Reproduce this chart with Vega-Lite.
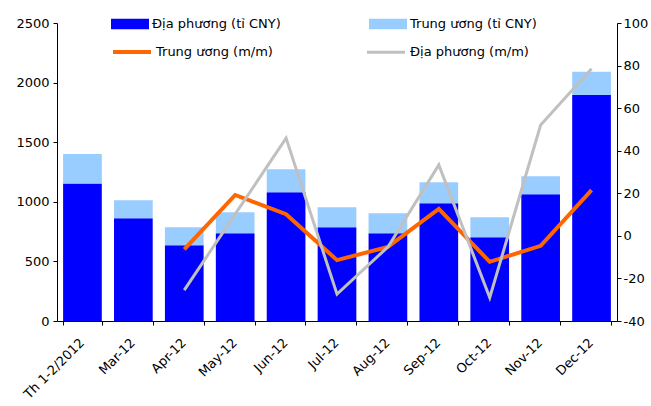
{
  "$schema": "https://vega.github.io/schema/vega-lite/v6.json",
  "width": 560,
  "height": 298,
  "autosize": {"type": "none"},
  "padding": {"left": 57, "top": 23, "right": 34, "bottom": 85},
  "background": "white",
  "config": {
    "view": {"stroke": null},
    "font": "DejaVu Sans",
    "axis": {"labelFont": "DejaVu Sans", "labelFontSize": 13, "labelColor": "#000", "domainColor": "#000", "tickColor": "#000", "grid": false, "tickSize": 4},
    "legend": {"labelFont": "DejaVu Sans", "labelFontSize": 13, "labelColor": "#000"}
  },
  "datasets": {
    "bars": [
      {"month": "Th 1-2/2012", "series": "Địa phương (tỉ CNY)", "value": 1154},
      {"month": "Th 1-2/2012", "series": "Trung ương (tỉ CNY)", "value": 246},
      {"month": "Mar-12", "series": "Địa phương (tỉ CNY)", "value": 862},
      {"month": "Mar-12", "series": "Trung ương (tỉ CNY)", "value": 152},
      {"month": "Apr-12", "series": "Địa phương (tỉ CNY)", "value": 636},
      {"month": "Apr-12", "series": "Trung ương (tỉ CNY)", "value": 151},
      {"month": "May-12", "series": "Địa phương (tỉ CNY)", "value": 736},
      {"month": "May-12", "series": "Trung ương (tỉ CNY)", "value": 177},
      {"month": "Jun-12", "series": "Địa phương (tỉ CNY)", "value": 1081},
      {"month": "Jun-12", "series": "Trung ương (tỉ CNY)", "value": 193},
      {"month": "Jul-12", "series": "Địa phương (tỉ CNY)", "value": 787},
      {"month": "Jul-12", "series": "Trung ương (tỉ CNY)", "value": 168},
      {"month": "Aug-12", "series": "Địa phương (tỉ CNY)", "value": 736},
      {"month": "Aug-12", "series": "Trung ương (tỉ CNY)", "value": 168},
      {"month": "Sep-12", "series": "Địa phương (tỉ CNY)", "value": 988},
      {"month": "Sep-12", "series": "Trung ương (tỉ CNY)", "value": 177},
      {"month": "Oct-12", "series": "Địa phương (tỉ CNY)", "value": 703},
      {"month": "Oct-12", "series": "Trung ương (tỉ CNY)", "value": 168},
      {"month": "Nov-12", "series": "Địa phương (tỉ CNY)", "value": 1064},
      {"month": "Nov-12", "series": "Trung ương (tỉ CNY)", "value": 151},
      {"month": "Dec-12", "series": "Địa phương (tỉ CNY)", "value": 1896},
      {"month": "Dec-12", "series": "Trung ương (tỉ CNY)", "value": 195}
    ],
    "lines": [
      {"month": "Apr-12", "series": "Trung ương (m/m)", "value": -6.4},
      {"month": "May-12", "series": "Trung ương (m/m)", "value": 19.2},
      {"month": "Jun-12", "series": "Trung ương (m/m)", "value": 10.2},
      {"month": "Jul-12", "series": "Trung ương (m/m)", "value": -11.4},
      {"month": "Aug-12", "series": "Trung ương (m/m)", "value": -5.2},
      {"month": "Sep-12", "series": "Trung ương (m/m)", "value": 12.7},
      {"month": "Oct-12", "series": "Trung ương (m/m)", "value": -12.2},
      {"month": "Nov-12", "series": "Trung ương (m/m)", "value": -4.7},
      {"month": "Dec-12", "series": "Trung ương (m/m)", "value": 21.5},
      {"month": "Apr-12", "series": "Địa phương (m/m)", "value": -25.5},
      {"month": "May-12", "series": "Địa phương (m/m)", "value": 10.2},
      {"month": "Jun-12", "series": "Địa phương (m/m)", "value": 45.9},
      {"month": "Jul-12", "series": "Địa phương (m/m)", "value": -27.4},
      {"month": "Aug-12", "series": "Địa phương (m/m)", "value": -5.2},
      {"month": "Sep-12", "series": "Địa phương (m/m)", "value": 33.3},
      {"month": "Oct-12", "series": "Địa phương (m/m)", "value": -29.0},
      {"month": "Nov-12", "series": "Địa phương (m/m)", "value": 52.1},
      {"month": "Dec-12", "series": "Địa phương (m/m)", "value": 78.5}
    ]
  },
  "encoding": {
    "x": {
      "field": "month",
      "type": "nominal",
      "scale": {"domain": ["Th 1-2/2012", "Mar-12", "Apr-12", "May-12", "Jun-12", "Jul-12", "Aug-12", "Sep-12", "Oct-12", "Nov-12", "Dec-12"], "paddingInner": 0.24, "paddingOuter": 0.12},
      "axis": {"title": null, "labelAngle": -45, "tickBand": "extent", "labelPadding": 11, "labelOffset": -5}
    }
  },
  "layer": [
    {
      "data": {"name": "bars"},
      "mark": {"type": "bar"},
      "encoding": {
        "y": {
          "field": "value", "type": "quantitative", "stack": "zero",
          "scale": {"domain": [0, 2500], "nice": false},
          "axis": {"title": null, "values": [0, 500, 1000, 1500, 2000, 2500], "format": "d", "labelPadding": 4}
        },
        "fill": {
          "field": "series", "type": "nominal",
          "scale": {"domain": ["Địa phương (tỉ CNY)", "Trung ương (tỉ CNY)"], "range": ["#0000FF", "#99CCFF"]},
          "legend": {
            "title": null, "orient": "none", "legendX": 54, "legendY": -18, "columns": 2, "columnPadding": 88,
            "symbolType": "M-1,-0.27H1V0.27H-1Z", "symbolSize": 1444, "symbolStrokeWidth": 0, "labelOffset": 3
          }
        },
        "order": {"field": "series", "sort": "descending"}
      }
    },
    {
      "data": {"name": "lines"},
      "mark": {"type": "line"},
      "encoding": {
        "y": {
          "field": "value", "type": "quantitative",
          "scale": {"domain": [-40, 100], "nice": false},
          "axis": {"title": null, "orient": "right", "values": [-40, -20, 0, 20, 40, 60, 80, 100], "labelPadding": 2, "labelExpr": "datum.value < 0 ? '-' + abs(datum.value) : '' + datum.value"}
        },
        "stroke": {
          "field": "series", "type": "nominal",
          "scale": {"domain": ["Trung ương (m/m)", "Địa phương (m/m)"], "range": ["#FF6600", "#C0C0C0"]},
          "legend": {
            "title": null, "orient": "none", "legendX": 54, "legendY": 8, "columns": 2, "columnPadding": 88,
            "symbolType": "stroke", "symbolSize": 1444, "symbolStrokeWidth": 4, "labelOffset": 3
          }
        },
        "strokeWidth": {
          "field": "series", "type": "nominal",
          "scale": {"domain": ["Trung ương (m/m)", "Địa phương (m/m)"], "range": [4, 3]},
          "legend": null
        }
      }
    }
  ],
  "resolve": {"scale": {"y": "independent"}}
}
